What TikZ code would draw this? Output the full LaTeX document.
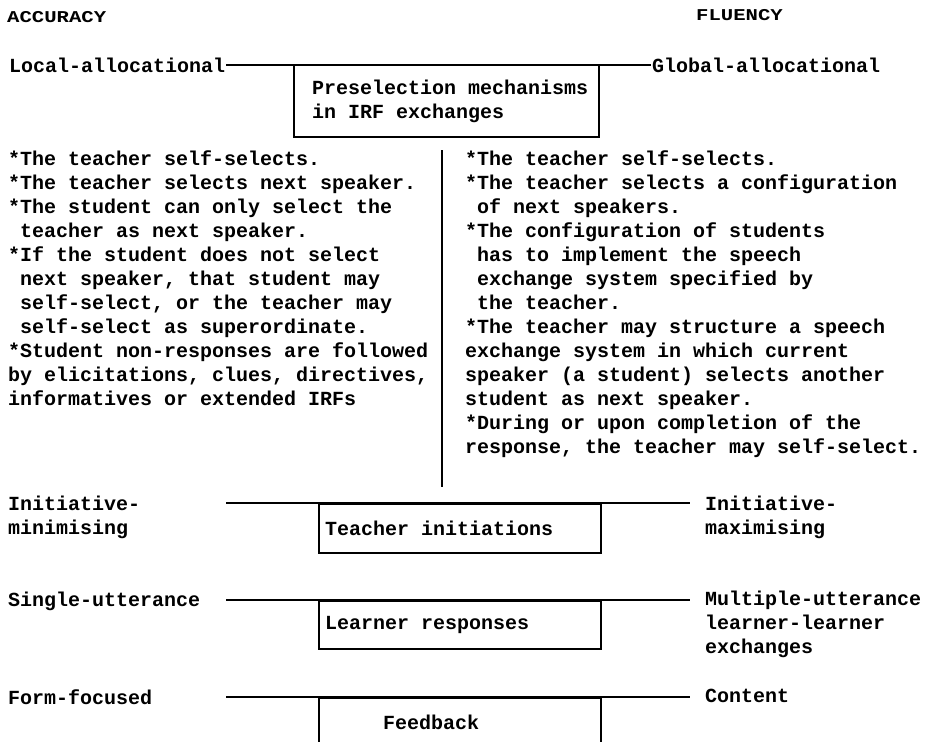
\documentclass[tikz,border=0pt]{standalone}
\usepackage{fontspec}
\setmonofont{Liberation Mono}
\newfontfamily\headfont{Liberation Mono}[FakeStretch=1.25]
\newcommand{\ind}{\hphantom{*}}

\begin{document}
\begin{tikzpicture}[x=1pt,y=-1pt,
  every node/.style={font=\ttfamily\bfseries\fontsize{20}{24}\selectfont,inner sep=0pt,align=left},
  head/.style={font=\headfont\bfseries\fontsize{16.5}{18}\selectfont,anchor=west},
  lbl/.style={anchor=west},
  col/.style={anchor=north west},
  box/.style={draw,line width=1.5pt,anchor=north west,minimum width=282pt},
  rule/.style={line width=1.5pt}]
\clip (0,0) rectangle (933,741);

\node[head] (acc) at (7,17) {ACCURACY};
\node[head] (flu) at (696,15) {FLUENCY};

% preselection
\node[lbl,inner xsep=1pt] (loc) at (8,65) {Local-allocational};
\node[lbl,inner xsep=1pt] (glob) at (651,65) {Global-allocational};
\node[box,minimum width=305pt,minimum height=71pt] (irf) at (293,65) {};
\node[lbl] (irft) at ([xshift=19pt]irf.west) {Preselection mechanisms\\in IRF exchanges};
\draw[rule] (loc.east) -- (glob.west);

\node[col] (lcol) at (8,151) {*The teacher self-selects.\\
*The teacher selects next speaker.\\
*The student can only select the\\
\ind teacher as next speaker.\\
*If the student does not select\\
\ind next speaker, that student may\\
\ind self-select, or the teacher may\\
\ind self-select as superordinate.\\
*Student non-responses are followed\\
by elicitations, clues, directives,\\
informatives or extended IRFs};
\node[col] (rcol) at (465,151) {*The teacher self-selects.\\
*The teacher selects a configuration\\
\ind of next speakers.\\
*The configuration of students\\
\ind has to implement the speech\\
\ind exchange system specified by\\
\ind the teacher.\\
*The teacher may structure a speech\\
exchange system in which current\\
speaker (a student) selects another\\
student as next speaker.\\
*During or upon completion of the\\
response, the teacher may self-select.};
\draw[rule] (442,150) -- (442,487);

% teacher initiations
\node[col] (imin) at (8,496) {Initiative-\\minimising};
\node[col] (imax) at (705,496) {Initiative-\\maximising};
\coordinate (tiL) at (226,503);
\coordinate (tiR) at (690,503);
\node[box,minimum height=49pt] (ti) at (318,503) {};
\node[lbl] (tit) at ([xshift=7pt]ti.west) {Teacher initiations};
\draw[rule] (tiL) -- (tiR);

% learner responses
\node[lbl] (single) at (8,601) {Single-utterance};
\node[col] (multi) at (705,591) {Multiple-utterance\\learner-learner\\exchanges};
\coordinate (lrL) at (226,600);
\coordinate (lrR) at (690,600);
\node[box,minimum height=48pt] (lr) at (318,600) {};
\node[lbl] (lrt) at ([xshift=7pt]lr.west) {Learner responses};
\draw[rule] (lrL) -- (lrR);

% feedback
\node[lbl] (form) at (8,697) {Form-focused};
\node[lbl] (cont) at (705,696) {Content};
\coordinate (fbL) at (226,697);
\coordinate (fbR) at (690,697);
\node[box,minimum height=50pt] (fb) at (318,697) {};
\node[lbl] (fbt) at ([xshift=65pt]fb.west) {Feedback};
\draw[rule] (fbL) -- (fbR);
\end{tikzpicture}
\end{document}
